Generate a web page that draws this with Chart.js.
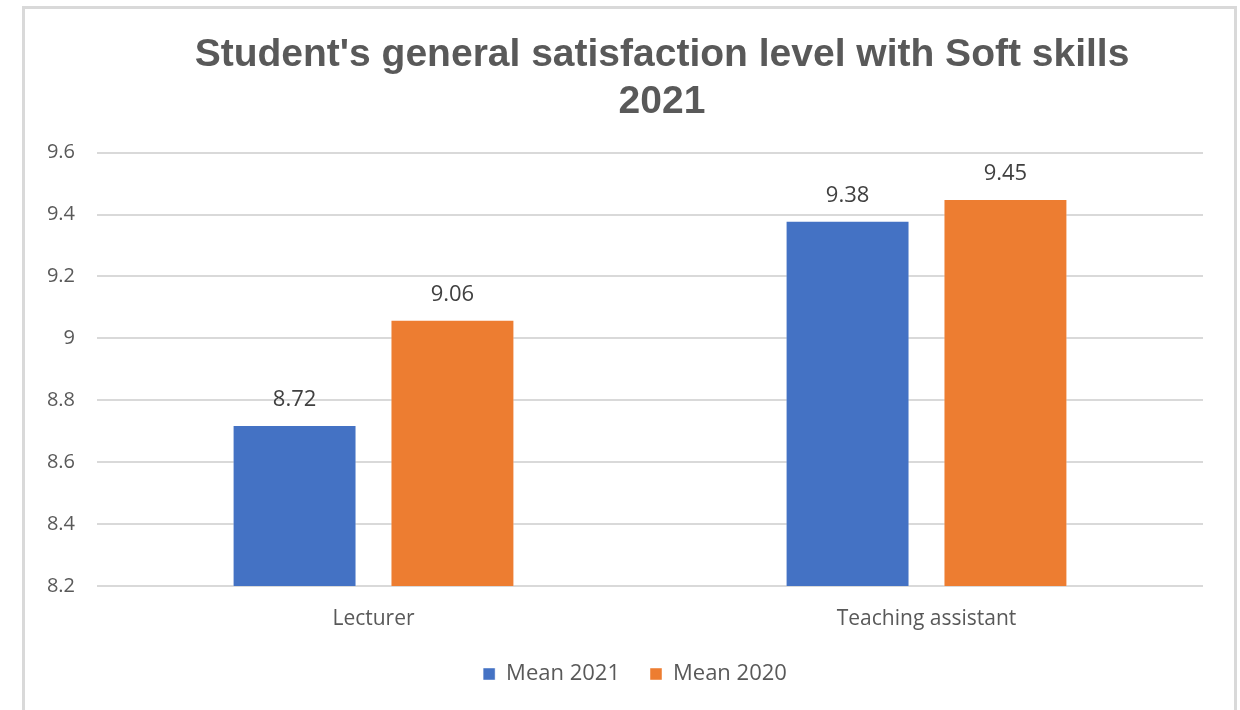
<!DOCTYPE html>
<html>
<head>
<meta charset="utf-8">
<script src="https://cdn.jsdelivr.net/npm/chart.js@4"></script>
<style>
  html, body { margin: 0; padding: 0; background: #ffffff; }
  body { width: 1240px; height: 710px; position: relative; overflow: hidden; }
  #frame {
    position: absolute;
    left: 22px;
    top: 6px;
    width: 1209px;
    height: 720px;
    border-left: 3px solid #d9d9d9;
    border-top: 3px solid #d9d9d9;
    border-right: 3px solid #d9d9d9;
  }
  #wrap { position: absolute; left: 0; top: 0; width: 1209px; height: 710px; }
</style>
</head>
<body>
<div id="frame">
  <div id="wrap"><canvas id="satisfactionChart"></canvas></div>
</div>
<script>
const categories = ["Lecturer", "Teaching assistant"];
const mean2021 = [8.72, 9.38];
const mean2020 = [9.06, 9.45];
const seriesNames = ["Mean 2021", "Mean 2020"];
const yTickValues = [8.2, 8.4, 8.6, 8.8, 9, 9.2, 9.4, 9.6];
const yTickLabels = ["8.2", "8.4", "8.6", "8.8", "9", "9.2", "9.4", "9.6"];
const titleLines = ["Student's general satisfaction level with Soft skills", "2021"];

const textGrey = "#595959";
const baseFont = "'Open Sans', 'Noto Sans', sans-serif";

// draws the value above each bar, positioned from the bar elements
const valueLabels = {
  id: "valueLabels",
  afterDatasetsDraw(chart) {
    const ctx = chart.ctx;
    ctx.save();
    ctx.font = "22px " + baseFont;
    ctx.fillStyle = "#404040";
    ctx.textAlign = "center";
    ctx.textBaseline = "bottom";
    chart.data.datasets.forEach((ds, i) => {
      chart.getDatasetMeta(i).data.forEach((bar, j) => {
        ctx.fillText(String(ds.data[j]), bar.x, bar.y - 14);
      });
    });
    ctx.restore();
  },
};

// title and legend sit a bit right of the plot centre in the original
const centreShift = {
  id: "centreShift",
  afterLayout(chart) {
    if (chart.titleBlock) {
      chart.titleBlock.left += 48;
      chart.titleBlock.right += 48;
    }
    if (chart.legend) {
      chart.legend.left += 21;
      chart.legend.right += 21;
    }
  },
};

const ctx = document.getElementById("satisfactionChart").getContext("2d");
new Chart(ctx, {
  type: "bar",
  data: {
    labels: categories,
    datasets: [
      {
        label: seriesNames[0],
        data: mean2021,
        backgroundColor: "#4472C4",
        borderColor: "rgba(255,255,255,0.45)",
        borderWidth: 1,
      },
      {
        label: seriesNames[1],
        data: mean2020,
        backgroundColor: "#ED7D31",
        borderColor: "rgba(255,255,255,0.45)",
        borderWidth: 1,
      },
    ],
  },
  options: {
    responsive: true,
    maintainAspectRatio: false,
    animation: false,
    datasets: {
      bar: {
        categoryPercentage: 0.571,
        barPercentage: 0.785,
      },
    },
    layout: {
      padding: { left: 0, right: 31, top: 0, bottom: 24 },
    },
    scales: {
      x: {
        grid: { display: false, drawTicks: false },
        border: { display: false },
        ticks: {
          color: textGrey,
          font: { family: baseFont, size: 21 },
          padding: 20,
        },
        afterFit(scale) {
          scale.height = 47;
        },
      },
      y: {
        min: 8.2,
        max: 9.6,
        afterBuildTicks(scale) {
          scale.ticks = yTickValues.map((v) => ({ value: v }));
        },
        grid: {
          color: "#d9d9d9",
          lineWidth: 2,
          drawTicks: false,
        },
        border: { display: false },
        ticks: {
          color: textGrey,
          font: { family: baseFont, size: 20 },
          padding: 22,
          callback: (value, index) => yTickLabels[index],
        },
        afterFit(scale) {
          scale.width = 72;
        },
      },
    },
    plugins: {
      title: {
        display: true,
        text: titleLines,
        color: textGrey,
        font: { family: "'Liberation Sans', Arial, sans-serif", size: 39, weight: "bold", lineHeight: 1.2 },
        padding: { top: 23, bottom: 27 },
      },
      legend: {
        display: true,
        position: "bottom",
        labels: {
          color: textGrey,
          font: { family: baseFont, size: 22 },
          boxWidth: 12,
          boxHeight: 12,
          padding: 30,
        },
      },
      tooltip: { enabled: false },
    },
  },
  plugins: [valueLabels, centreShift],
});
</script>
</body>
</html>
